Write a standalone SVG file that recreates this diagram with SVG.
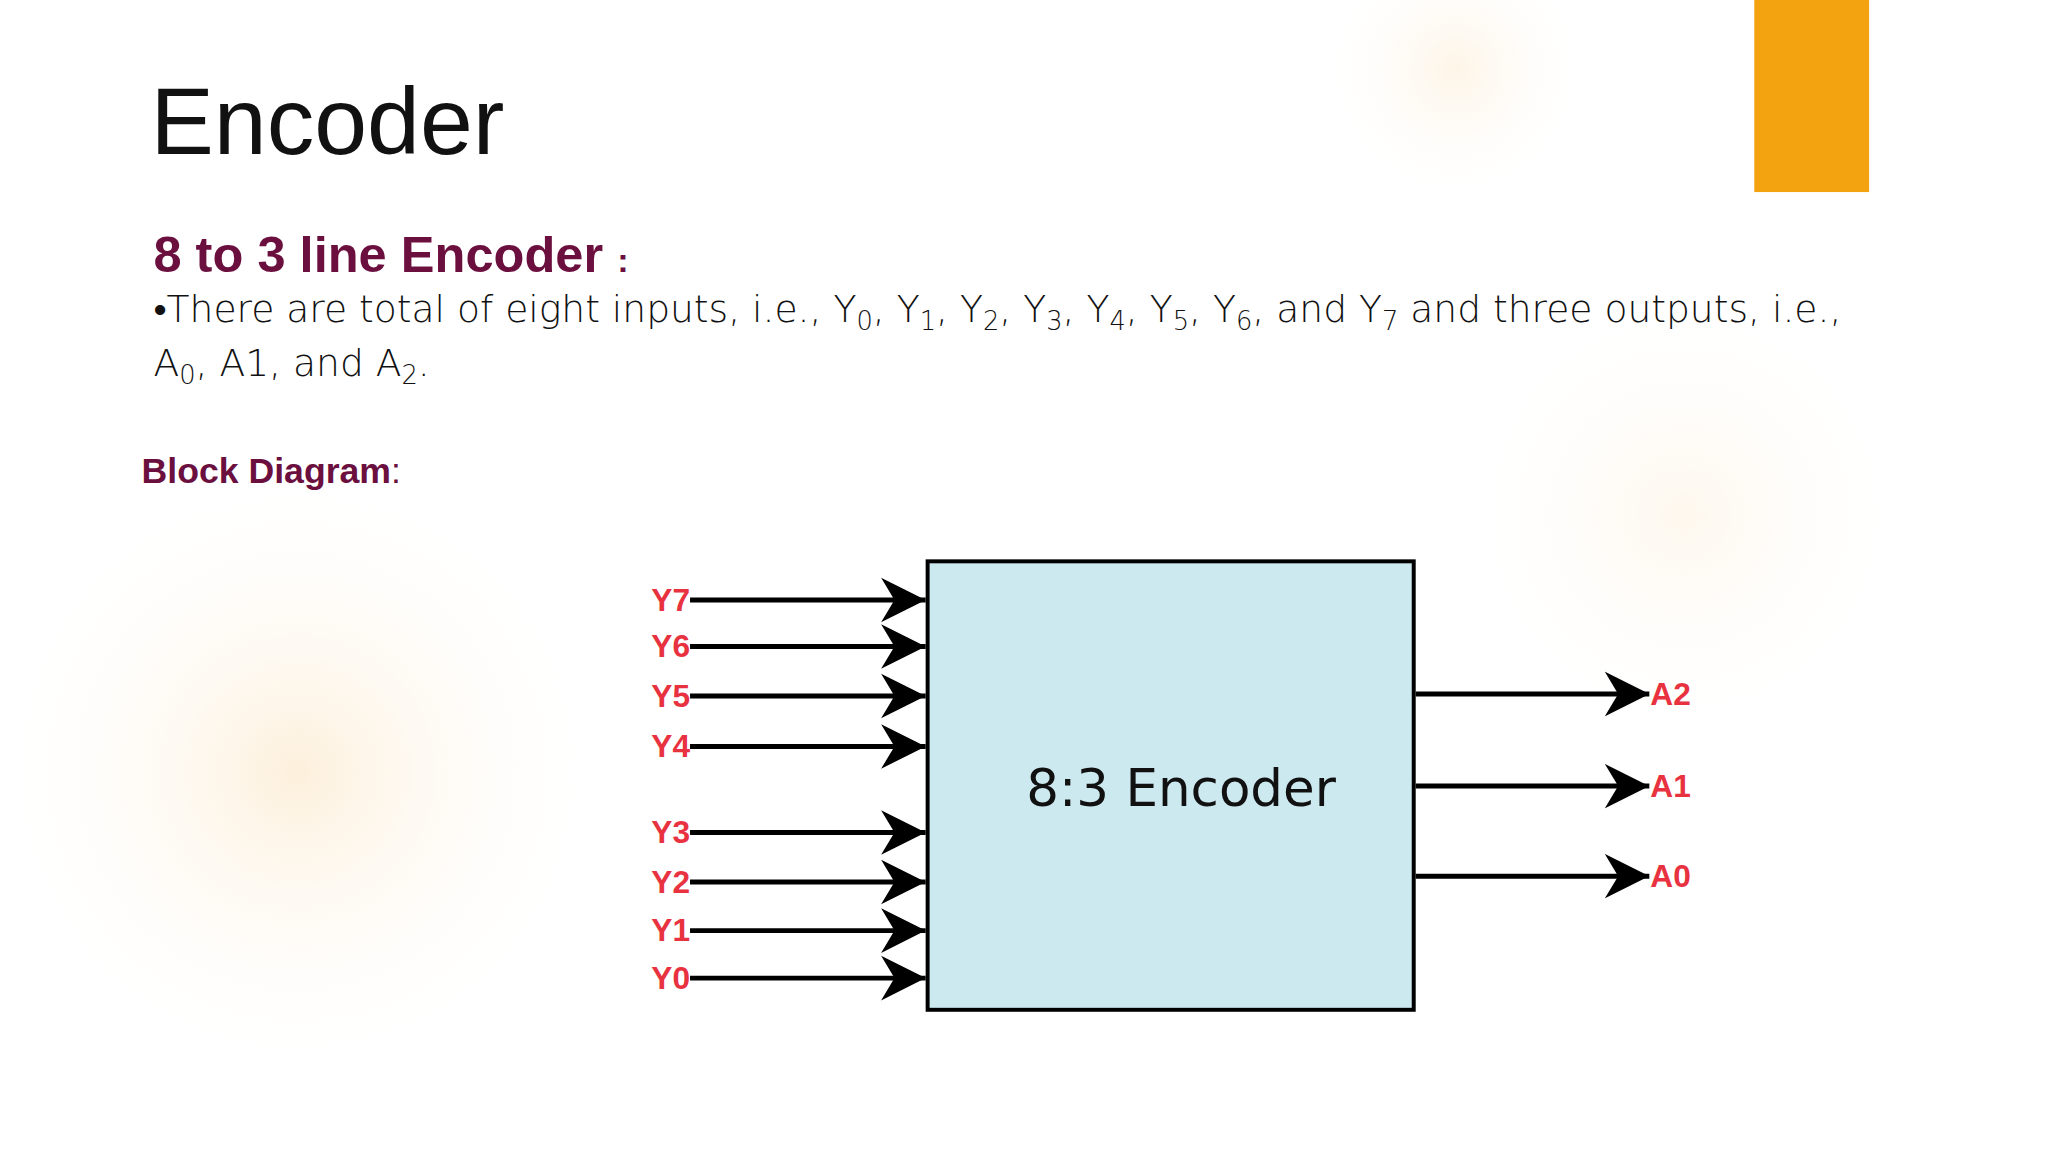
<svg xmlns="http://www.w3.org/2000/svg" width="2048" height="1152" viewBox="0 0 2048 1152">
<defs>
<style>
.in{fill:#e8323f;font-family:"Liberation Sans Narrow","Liberation Sans",sans-serif;font-weight:bold;font-size:32px}
.w{stroke:#000;stroke-width:5;fill:none}
.body{font-family:"DejaVu Sans","Liberation Sans",sans-serif;font-size:38px;fill:#111;font-weight:300}
</style>
<marker id="ar" viewBox="0 0 20 20" refX="20" refY="10" markerWidth="9" markerHeight="10" markerUnits="strokeWidth" orient="auto"><path d="M0,0 L20,10 L0,20 L6,10 Z" fill="#000"/></marker>
<radialGradient id="g1"><stop offset="0" stop-color="#fbe6c4" stop-opacity="0.6"/><stop offset="1" stop-color="#fff" stop-opacity="0"/></radialGradient>
</defs>
<rect width="2048" height="1152" fill="#fff"/>
<g transform="scale(0.99)">
<circle cx="300" cy="780" r="320" fill="url(#g1)"/>
<circle cx="1700" cy="520" r="240" fill="url(#g1)" opacity="0.5"/>
<circle cx="1470" cy="70" r="140" fill="url(#g1)" opacity="0.7"/>
<rect x="1772" y="0" width="116" height="194" fill="#f2a30f"/>
<text x="152" y="156" font-family="Liberation Sans,sans-serif" font-size="96" fill="#111">Encoder</text>
<text x="155" y="275" font-family="Liberation Sans,sans-serif" font-weight="bold" font-size="50" fill="#6b0f3f" textLength="480" lengthAdjust="spacingAndGlyphs">8 to 3 line Encoder <tspan font-size="34">:</tspan></text>
<text class="body" x="155" y="325" textLength="1705" lengthAdjust="spacingAndGlyphs">•There are total of eight inputs, i.e., Y<tspan font-size="26" dy="8">0</tspan><tspan dy="-8">, Y</tspan><tspan font-size="26" dy="8">1</tspan><tspan dy="-8">, Y</tspan><tspan font-size="26" dy="8">2</tspan><tspan dy="-8">, Y</tspan><tspan font-size="26" dy="8">3</tspan><tspan dy="-8">, Y</tspan><tspan font-size="26" dy="8">4</tspan><tspan dy="-8">, Y</tspan><tspan font-size="26" dy="8">5</tspan><tspan dy="-8">, Y</tspan><tspan font-size="26" dy="8">6</tspan><tspan dy="-8">, and Y</tspan><tspan font-size="26" dy="8">7</tspan><tspan dy="-8"> and three outputs, i.e.,</tspan></text>
<text class="body" x="155" y="380">A<tspan font-size="26" dy="8">0</tspan><tspan dy="-8">, A1, and A</tspan><tspan font-size="26" dy="8">2</tspan><tspan dy="-8">.</tspan></text>
<text x="143" y="488" font-family="Liberation Sans,sans-serif" font-weight="bold" font-size="36" fill="#6b0f3f">Block Diagram<tspan font-weight="normal">:</tspan></text>
<g id="encoder">
<rect x="937" y="567" width="491" height="453" fill="#cde9f0" stroke="#000" stroke-width="4"/>
<text x="1193" y="814" text-anchor="middle" font-family="DejaVu Sans,sans-serif" font-size="52" fill="#111">8:3 Encoder</text>
</g>
<g id="connectors">
<line class="w" x1="697" y1="606" x2="935" y2="606" marker-end="url(#ar)"/>
<line class="w" x1="697" y1="653" x2="935" y2="653" marker-end="url(#ar)"/>
<line class="w" x1="697" y1="703" x2="935" y2="703" marker-end="url(#ar)"/>
<line class="w" x1="697" y1="754" x2="935" y2="754" marker-end="url(#ar)"/>
<line class="w" x1="697" y1="841" x2="935" y2="841" marker-end="url(#ar)"/>
<line class="w" x1="697" y1="891" x2="935" y2="891" marker-end="url(#ar)"/>
<line class="w" x1="697" y1="940" x2="935" y2="940" marker-end="url(#ar)"/>
<line class="w" x1="697" y1="988" x2="935" y2="988" marker-end="url(#ar)"/>
<line class="w" x1="1430" y1="701" x2="1666" y2="701" marker-end="url(#ar)"/>
<line class="w" x1="1430" y1="794" x2="1666" y2="794" marker-end="url(#ar)"/>
<line class="w" x1="1430" y1="885" x2="1666" y2="885" marker-end="url(#ar)"/>
</g>
<g id="labels">
<text class="in" x="697" y="617" text-anchor="end">Y7</text>
<text class="in" x="697" y="664" text-anchor="end">Y6</text>
<text class="in" x="697" y="714" text-anchor="end">Y5</text>
<text class="in" x="697" y="765" text-anchor="end">Y4</text>
<text class="in" x="697" y="852" text-anchor="end">Y3</text>
<text class="in" x="697" y="902" text-anchor="end">Y2</text>
<text class="in" x="697" y="951" text-anchor="end">Y1</text>
<text class="in" x="697" y="999" text-anchor="end">Y0</text>
<text class="in" x="1667" y="712">A2</text>
<text class="in" x="1667" y="805">A1</text>
<text class="in" x="1667" y="896">A0</text>
</g>
</g>
</svg>
